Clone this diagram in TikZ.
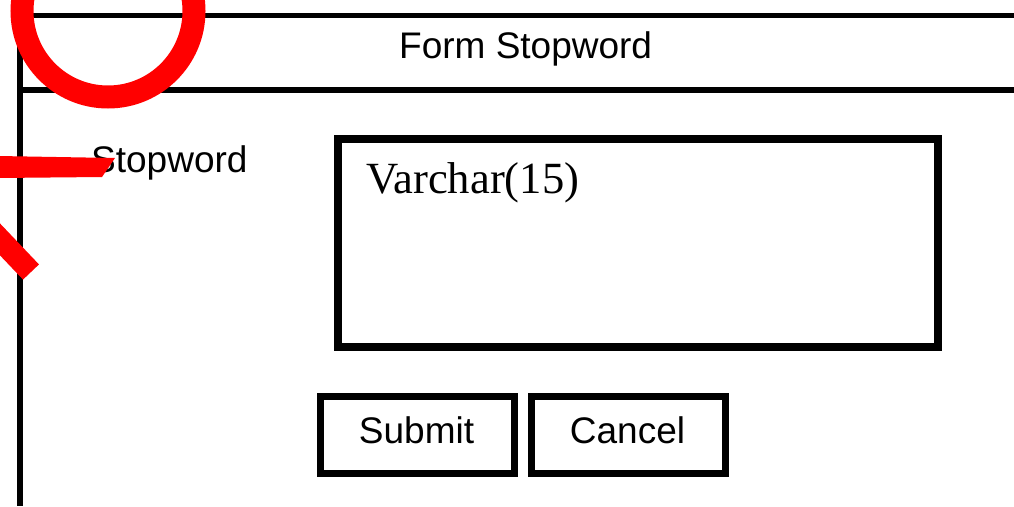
\documentclass[tikz,border=0pt]{standalone}
\usepackage{fontspec}
\setmainfont{Liberation Serif}
\newfontfamily\arialfont{Liberation Sans}
\definecolor{markred}{RGB}{255,0,0}
\tikzset{
  frameline/.style={line width=#1, draw=black},
  sanslabel/.style={font=\arialfont\fontsize{37}{41}\selectfont, inner sep=0pt, anchor=base west},
  buttonbox/.style={draw=black, line width=7pt, minimum width=194pt, minimum height=77pt, inner sep=0pt},
  fieldbox/.style={draw=black, line width=8pt, minimum width=600pt, minimum height=207.5pt, inner sep=0pt},
  redmark/.style={fill=markred, draw=none},
}
\begin{document}
\begin{tikzpicture}[x=1pt, y=-1pt]
\useasboundingbox (0,0) rectangle (1014,506);
\clip (0,0) rectangle (1014,506);
% frame
\coordinate (tl) at (20,15);
\coordinate (tr) at (1014,15);
\coordinate (hl) at (20,90);
\coordinate (hr) at (1014,90);
\coordinate (bl) at (20,506);
\draw[frameline=5pt] (17,15) -- (tr);
\draw[frameline=6pt] (hl) -- (hr);
\draw[frameline=6.5pt] (20,12.5) -- (bl);
% title and labels
\node[sanslabel] (title) at (399,58) {Form Stopword};
\node[sanslabel] (stoplabel) at (91,172) {Stopword};
% field
\node[fieldbox] (field) at (637.5,242.75) {};
\node[font=\fontsize{44.6}{48}\selectfont, inner sep=0pt, anchor=base west] (ftext) at (366,193) {Varchar(15)};
% buttons
\node[buttonbox] (submit) at (417,434.5) {};
\node[buttonbox] (cancel) at (628,434.5) {};
\node[sanslabel, anchor=base] (submittext) at (416.5,443) {Submit};
\node[sanslabel, anchor=base] (canceltext) at (627.5,443) {Cancel};
% red annotation marks
\draw[markred, line width=23pt] (108,11) ellipse [x radius=86, y radius=86];
\fill[redmark] (-2,156) -- (115,158) -- (102,177) -- (-2,178) -- cycle;
\draw[markred, line width=22pt] (-8,231) -- (31,272);
\end{tikzpicture}
\end{document}
